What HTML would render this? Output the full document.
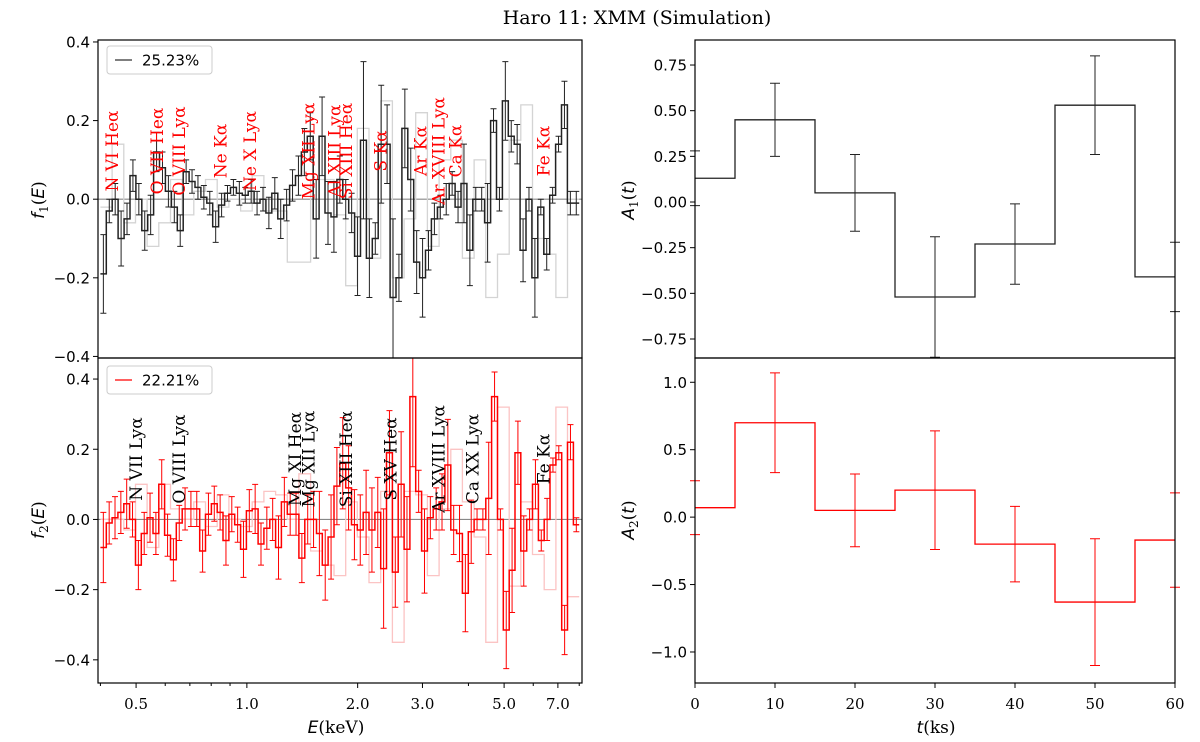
<!DOCTYPE html>
<html><head><meta charset="utf-8">
<style>
html,body{margin:0;padding:0;background:#fff;}
svg{display:block;}
text{font-family:"DejaVu Sans","Liberation Sans",sans-serif;}
.serif{font-family:"DejaVu Serif","Liberation Serif",serif;}
</style></head>
<body>
<svg id="fig" width="1200" height="742" viewBox="0 0 1200 742" xmlns="http://www.w3.org/2000/svg">
<text class="serif" x="637" y="24" font-size="19" text-anchor="middle">Haro 11: XMM (Simulation)</text>
</svg>
<script>
// ---- data ----
const f1Values=[-0.19,-0.03,0.0,-0.1,-0.05,0.06,0.0,-0.08,-0.04,0.12,0.08,0.02,-0.02,-0.08,0.07,0.045,0.03,0.005,-0.01,-0.07,-0.015,0.015,0.03,0.015,0.01,0.02,-0.01,0.0,-0.035,0.015,-0.05,-0.015,0.035,0.06,0.12,0.16,-0.05,0.16,-0.035,-0.045,0.05,
0.0,-0.035,-0.145,0.15,-0.15,-0.1,0.14,0.14,-0.25,-0.2,0.18,0.05,-0.16,-0.2,-0.13,-0.05,-0.02,0.0,0.04,-0.02,0.04,-0.13,0.0,0.0,-0.06,0.2,0.0,0.25,0.16,0.14,-0.13,0.0,-0.2,-0.02,-0.14,0.01,0.14,0.24,-0.01,-0.01];
const f1Errors=[0.1,0.03,0.04,0.07,0.04,0.04,0.04,0.05,0.05,0.05,0.04,0.04,0.04,0.04,0.03,0.03,0.03,0.03,0.03,0.04,0.03,0.02,0.02,0.03,0.02,0.03,0.03,0.03,0.04,0.04,0.05,0.04,0.04,0.05,0.06,0.06,0.1,0.1,0.08,0.09,0.06,
0.05,0.05,0.1,0.2,0.1,0.04,0.15,0.1,0.2,0.06,0.1,0.08,0.08,0.1,0.05,0.04,0.03,0.04,0.03,0.04,0.1,0.09,0.03,0.03,0.1,0.03,0.03,0.1,0.04,0.05,0.08,0.03,0.1,0.02,0.04,0.02,0.02,0.06,0.03,0.03];
const f1Other=[-0.02,0.14,-0.06,0.0,-0.12,-0.06,0.05,-0.04,0.02,0.05,-0.02,0.0,-0.03,0.06,-0.03,-0.03,-0.16,-0.16,0.05,0.05,-0.04,-0.22,0.18,-0.15,0.25,-0.2,-0.05,0.22,-0.12,0.1,0.15,-0.15,0.1,-0.25,-0.14,0.15,0.24,-0.1,-0.14,-0.25,0.0];
const f2Values=[-0.08,-0.01,0.005,0.02,0.045,0.0,-0.13,-0.04,0.005,-0.04,0.1,-0.045,-0.115,-0.01,0.03,0.03,0.03,-0.09,0.015,0.045,0.02,-0.06,0.015,-0.015,-0.085,0.025,0.03,-0.07,-0.025,0.0,-0.08,0.05,0.015,0.015,-0.11,0.0,0.0,-0.04,-0.13,-0.05,0.095,0.16,
0.09,-0.015,-0.03,0.02,-0.03,0.02,-0.14,0.19,-0.15,0.1,-0.085,0.35,0.08,-0.09,0.005,0.03,0.05,0.155,-0.03,-0.04,-0.21,-0.035,0.0,0.0,0.06,0.35,0.0,-0.315,-0.145,0.19,-0.09,0.0,0.1,-0.06,0.0,0.155,0.19,-0.315,0.22,-0.015];
const f2Errors=[0.1,0.06,0.06,0.06,0.07,0.05,0.07,0.06,0.07,0.06,0.07,0.06,0.06,0.05,0.06,0.05,0.05,0.06,0.06,0.05,0.05,0.07,0.05,0.05,0.08,0.06,0.07,0.06,0.06,0.06,0.09,0.07,0.06,0.06,0.07,0.07,0.08,0.12,0.1,0.12,0.11,0.13,
0.12,0.1,0.1,0.12,0.12,0.1,0.17,0.12,0.1,0.15,0.15,0.2,0.06,0.12,0.06,0.06,0.08,0.13,0.07,0.08,0.11,0.09,0.03,0.03,0.16,0.07,0.03,0.11,0.12,0.09,0.1,0.03,0.07,0.03,0.06,0.02,0.02,0.07,0.05,0.02];
const f2Other=[0.0,0.0,-0.03,0.1,-0.08,0.1,0.03,0.0,0.05,-0.02,0.07,0.0,-0.02,0.05,0.08,0.07,0.0,0.13,-0.09,-0.13,-0.16,0.05,-0.05,-0.18,0.08,-0.35,0.08,0.07,-0.16,0.03,0.2,0.05,-0.05,-0.35,0.32,-0.19,0.05,-0.1,-0.2,0.32,-0.22];
const topLines=[["N VI Heα",0.43],["O VII Heα",0.57],["O VIII Lyα",0.654],["Ne Kα",0.849],["Ne X Lyα",1.02],["Mg XII Lyα",1.47],["Al XIII Lyα",1.73],["Si XIII Heα",1.86],["S Kα",2.31],["Ar Kα",2.96],["Ar XVIII Lyα",3.32],["Ca Kα",3.69],["Fe Kα",6.4]];
const botLines=[["N VII Lyα",0.50],["O VIII Lyα",0.654],["Mg XI Heα",1.35],["Mg XII Lyα",1.47],["Si XIII Heα",1.86],["S XV Heα",2.46],["Ar XVIII Lyα",3.32],["Ca XX Lyα",4.1],["Fe Kα",6.4]];
const timeCenters=[0,10,20,30,40,50,60];
const a1Values=[0.13,0.45,0.05,-0.52,-0.23,0.53,-0.41];
const a1Errors=[0.15,0.2,0.21,0.33,0.22,0.27,0.19];
const a2Values=[0.07,0.70,0.05,0.20,-0.20,-0.63,-0.17];
const a2Errors=[0.2,0.37,0.27,0.44,0.28,0.47,0.35];
const eTicks=[0.5,1.0,2.0,3.0,5.0,7.0];
const eMinor=[0.4,0.6,0.7,0.8,0.9,4,6,8];
const fTicks=[-0.4,-0.2,0.0,0.2,0.4];
const a1Ticks=[-0.75,-0.5,-0.25,0,0.25,0.5,0.75];
const a2Ticks=[-1.0,-0.5,0.0,0.5,1.0];
const tTicks=[0,10,20,30,40,50,60];

const svg=document.getElementById('fig');
const NS='http://www.w3.org/2000/svg';
function mk(tag,attrs,parent){const e=document.createElementNS(NS,tag);for(const k in attrs)e.setAttribute(k,attrs[k]);(parent||svg).appendChild(e);return e;}

// ---- scales ----
const LX0=98,LX1=582,RX0=695,RX1=1175;
const E_MIN=0.394,E_MAX=8.14,BIN_LO=0.40,BIN_HI=8.0;
function xE(e){return LX0+(Math.log10(e)-Math.log10(E_MIN))/(Math.log10(E_MAX)-Math.log10(E_MIN))*(LX1-LX0);}
function xT(t){return RX0+t/60*(RX1-RX0);}
function lin(d0,d1,p0,p1){return v=>p0+(v-d0)/(d1-d0)*(p1-p0);}
const yF1=lin(0.405,-0.404,40,358);
const yF2=lin(0.46,-0.466,358,683);
const yA1=lin(0.887,-0.854,40,358);
const yA2=lin(1.18,-1.23,358,683);
function binEdges(n){const a=[];const l0=Math.log10(BIN_LO),l1=Math.log10(BIN_HI);for(let i=0;i<=n;i++)a.push(Math.pow(10,l0+(l1-l0)*i/n));return a;}

function stepPath(vals,edges,xf,yf){let d='';for(let i=0;i<vals.length;i++){const x0=xf(edges[i]),x1=xf(edges[i+1]),y=yf(vals[i]);d+=(i==0?'M':'L')+x0.toFixed(1)+','+y.toFixed(1)+'L'+x1.toFixed(1)+','+y.toFixed(1);}return d;}

function drawSpectrum(vals,errs,other,yf,col,lightCol,y0,y1,name){
  const g=mk('g',{});
  
  
  const z=mk('line',{x1:LX0,x2:LX1,y1:yf(0),y2:yf(0),stroke:'#888','stroke-width':1.2},g);
  
  
  const oe=binEdges(other.length);
  const op=mk('path',{d:stepPath(other,oe,xE,yf),fill:'none',stroke:lightCol,'stroke-width':1.3},g);
  
  
  const ed=binEdges(vals.length);
  for(let i=0;i<vals.length;i++){
    const xc=(xE(ed[i])+xE(ed[i+1]))/2;const er=errs[i]||0;
    const ya=Math.max(y0,Math.min(y1,yf(vals[i]+er))),yb=Math.max(y0,Math.min(y1,yf(vals[i]-er)));
    const eb=mk('path',{d:`M${xc},${ya}L${xc},${yb}M${xc-3},${ya}L${xc+3},${ya}M${xc-3},${yb}L${xc+3},${yb}`,stroke:col,'stroke-width':1,fill:'none'},g);
    
    
  }
  const sp=mk('path',{d:stepPath(vals,ed,xE,yf),fill:'none',stroke:col,'stroke-width':1.5},g);
  
  
}
function drawA(vals,errs,yf,col,name,y0,y1){
  const g=mk('g',{});
  
  
  let d='';
  for(let i=0;i<vals.length;i++){
    const t0=Math.max(0,timeCenters[i]-5),t1=Math.min(60,timeCenters[i]+5);
    const y=yf(vals[i]);
    d+=(i==0?'M':'L')+xT(t0)+','+y+'L'+xT(t1)+','+y;
    const xc=xT(timeCenters[i]);
    const ya=Math.max(y0,yf(vals[i]+errs[i])),yb=Math.min(y1,yf(vals[i]-errs[i]));
    const eb=mk('path',{d:`M${xc},${ya}L${xc},${yb}M${xc-5},${ya}L${xc+5},${ya}M${xc-5},${yb}L${xc+5},${yb}`,stroke:col,'stroke-width':1,fill:'none'},g);
    
    
  }
  const p=mk('path',{d:d,fill:'none',stroke:col,'stroke-width':1.3},g);
  
  
}
function yTicks(ticks,yf,x,fmt,name){
  ticks.forEach(v=>{const y=yf(v);
    const l=mk('line',{x1:x-5,x2:x,y1:y,y2:y,stroke:'#000','stroke-width':1});
    
    
    const t=mk('text',{x:x-8,y:y+5.5,'font-size':15,'text-anchor':'end'});t.textContent=fmt(v).replace('-','−');
    
    
  });
}
function frame(x0,y0,x1,y1,name){const r=mk('rect',{x:x0,y:y0,width:x1-x0,height:y1-y0,fill:'none',stroke:'#000','stroke-width':1.2});
  
  }
function labels(list,yc,col,name){
  list.forEach(([s,e])=>{const x=xE(e);
    const t=mk('text',{class:'serif',x:0,y:0,'font-size':17,fill:col,'text-anchor':'middle',transform:`translate(${x+6},${yc}) rotate(-90)`});t.textContent=s;
    
    });
}
function legend(y,col,txt,name){
  const g=mk('g',{});
  
  
  mk('rect',{x:107,y:y,width:105,height:28,rx:3,fill:'#fff',stroke:'#ccc','stroke-width':1},g);
  mk('line',{x1:115,x2:132,y1:y+14,y2:y+14,stroke:col,'stroke-width':1.3},g);
  const t=mk('text',{x:142,y:y+19.5,'font-size':15},g);t.textContent=txt;
}

drawSpectrum(f1Values,f1Errors,f1Other,yF1,'#222','#d4d4d4',40,358,'f1');
drawSpectrum(f2Values,f2Errors,f2Other,yF2,'#f00','#fbc4c4',358,683,'f2');
labels(topLines,151,'#f00','top');
labels(botLines,459,'#000','bottom');
legend(46,'#333','25.23%','f1');
legend(366,'#f00','22.21%','f2');
frame(LX0,40,LX1,358,'f1-axes');
frame(LX0,358,LX1,683,'f2-axes');
yTicks(fTicks,yF1,LX0,v=>v.toFixed(1),'f1-y');
yTicks(fTicks,yF2,LX0,v=>v.toFixed(1),'f2-y');
eMinor.forEach(e=>{const x=xE(e);const l=mk('line',{x1:x,x2:x,y1:683,y2:686,stroke:'#000'});
  
  });
eTicks.forEach(e=>{const x=xE(e);const l=mk('line',{x1:x,x2:x,y1:683,y2:688,stroke:'#000'});
  
  
  const t=mk('text',{class:'serif',x:x,y:709,'font-size':15,'text-anchor':'middle'});t.textContent=e.toFixed(1);
  
  });

drawA(a1Values,a1Errors,yA1,'#222','a1',40,358);
drawA(a2Values,a2Errors,yA2,'#f00','a2',358,683);
frame(RX0,40,RX1,358,'a1-axes');
frame(RX0,358,RX1,683,'a2-axes');
yTicks(a1Ticks,yA1,RX0,v=>v.toFixed(2),'a1-y');
yTicks(a2Ticks,yA2,RX0,v=>v.toFixed(1),'a2-y');
tTicks.forEach(v=>{const x=xT(v);const l=mk('line',{x1:x,x2:x,y1:683,y2:688,stroke:'#000'});
  
  
  const t=mk('text',{class:'serif',x:x,y:709,'font-size':15,'text-anchor':'middle'});t.textContent=String(v);
  
  });
</script>
<script>
(function(){
const svg=document.getElementById('fig');const NS='http://www.w3.org/2000/svg';
function axlabel(x,y,rot,html,name){const t=document.createElementNS(NS,'text');t.setAttribute('x',0);t.setAttribute('y',0);t.setAttribute('font-size',17);t.setAttribute('class','serif');t.setAttribute('text-anchor','middle');t.setAttribute('transform',`translate(${x},${y}) rotate(${rot})`);t.innerHTML=html;


svg.appendChild(t);}
axlabel(44,200,-90,'<tspan font-style="italic" font-family="DejaVu Sans">f</tspan><tspan font-size="12" dy="4">1</tspan><tspan dy="-4">(</tspan><tspan font-style="italic" font-family="DejaVu Sans">E</tspan>)','f1-y-axis-title');
axlabel(44,520,-90,'<tspan font-style="italic" font-family="DejaVu Sans">f</tspan><tspan font-size="12" dy="4">2</tspan><tspan dy="-4">(</tspan><tspan font-style="italic" font-family="DejaVu Sans">E</tspan>)','f2-y-axis-title');
axlabel(634,200,-90,'<tspan font-style="italic" font-family="DejaVu Sans">A</tspan><tspan font-size="12" dy="4">1</tspan><tspan dy="-4">(</tspan><tspan font-style="italic" font-family="DejaVu Sans">t</tspan>)','a1-y-axis-title');
axlabel(634,520,-90,'<tspan font-style="italic" font-family="DejaVu Sans">A</tspan><tspan font-size="12" dy="4">2</tspan><tspan dy="-4">(</tspan><tspan font-style="italic" font-family="DejaVu Sans">t</tspan>)','a2-y-axis-title');
axlabel(336,733,0,'<tspan font-style="italic" font-family="DejaVu Sans">E</tspan>(keV)','energy-x-axis-title');
axlabel(936,733,0,'<tspan font-style="italic" font-family="DejaVu Sans">t</tspan>(ks)','time-x-axis-title');
})();
</script>
</body></html>
